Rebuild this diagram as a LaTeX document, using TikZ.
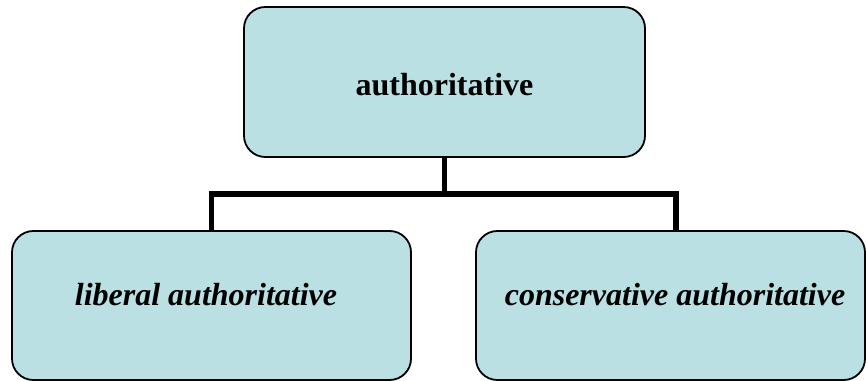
\documentclass[tikz,border=0pt]{standalone}
\usepackage{fontspec}
\setmainfont{Liberation Serif}
\definecolor{boxfill}{RGB}{186,224,227}
\begin{document}
\begin{tikzpicture}[x=0.75pt, y=-0.75pt,
  card/.style={draw=black, line width=1.35pt, fill=boxfill, rounded corners=16pt,
    rectangle, inner sep=0pt},
  cardtext/.style={inner sep=0pt, font=\fontsize{24}{28}\selectfont},
  link/.style={draw=black, line width=3.9pt}]
  \useasboundingbox (0,0) rectangle (866,381);

  % boxes
  \node[card, minimum width=300.75pt, minimum height=112.5pt] (top) at (444.5,82) {};
  \node[card, minimum width=299.25pt, minimum height=111.75pt] (left) at (211.5,305.5) {};
  \node[card, minimum width=291.75pt, minimum height=111.75pt] (right) at (670.5,305.5) {};

  % labels
  \node[cardtext, font=\fontsize{24}{28}\selectfont\bfseries] (toptext) at (444.5,85) {authoritative};
  \node[cardtext, font=\fontsize{24}{28}\selectfont\bfseries\itshape] (lefttext) at (206,295) {liberal authoritative};
  \node[cardtext, font=\fontsize{24}{28}\selectfont\bfseries\itshape] (righttext) at (675,295) {conservative authoritative};

  % tree connector
  \coordinate (bus) at (444.5,194);
  \coordinate (rightleg) at ([xshift=4.1pt]right.north);
  \draw[link] (top.south) -- (bus);
  \draw[link] (left.north) |- (bus) -| (rightleg);
\end{tikzpicture}
\end{document}
